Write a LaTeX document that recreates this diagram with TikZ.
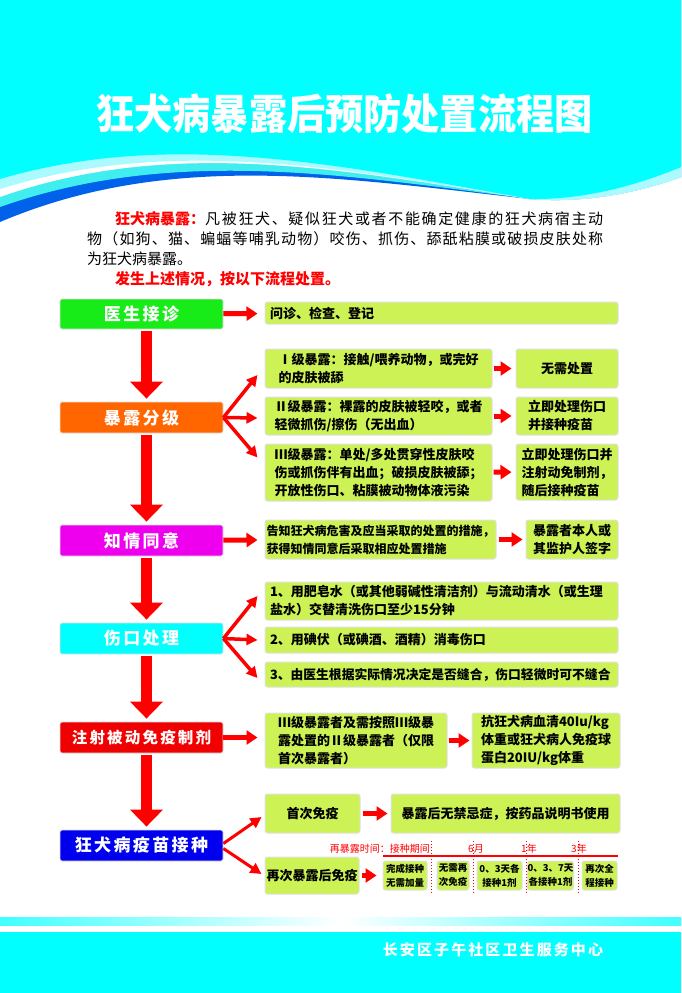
\documentclass[tikz,border=0pt]{standalone}
\usepackage{fontspec}
\usetikzlibrary{arrows.meta}
\newfontfamily\cjk{Noto Sans CJK SC}
\newfontfamily\cjkwide{Noto Sans CJK SC}[LetterSpace=14]
\ExplSyntaxOn
\NewDocumentCommand\spreadchars{m}{\tl_map_inline:nn{#1}{##1\hfil}}
\ExplSyntaxOff
\definecolor{topcyan}{RGB}{0,255,255}
\definecolor{wavelight}{RGB}{170,250,255}
\definecolor{wavemid}{RGB}{64,238,240}
\definecolor{waveblue}{RGB}{0,98,235}
\definecolor{boxlime}{RGB}{205,242,85}
\definecolor{boxgreen}{RGB}{24,236,24}
\definecolor{boxorange}{RGB}{255,102,0}
\definecolor{boxmagenta}{RGB}{238,0,238}
\definecolor{boxred}{RGB}{240,0,0}
\definecolor{boxblue}{RGB}{0,0,238}
\definecolor{arrowred}{RGB}{255,0,0}

\begin{document}
\begin{tikzpicture}[x=1pt, y=-1pt, font=\cjk,
    lbox/.style={rectangle, rounded corners=2pt, draw=black!12, line width=0.8pt,
      minimum width=163pt, minimum height=31pt, inner sep=0pt, text=white,
      font=\cjkwide\bfseries\fontsize{17}{17}\selectfont},
    gbox/.style={rectangle, rounded corners=2.5pt, fill=boxlime, draw=black!12, line width=1pt,
      align=left, inner sep=0pt, font=\cjk\bfseries\fontsize{13}{18}\selectfont},
    wide/.style={gbox, minimum width=353pt, text width=343pt},
    tbox/.style={gbox, align=center, minimum height=29pt,
      font=\cjk\bfseries\fontsize{9.5}{14}\selectfont},
    intro/.style={anchor=base west, inner sep=0pt, font=\cjk\fontsize{15}{15}\selectfont},
    down/.style={draw=arrowred, line width=11pt, -{Triangle[length=17pt,width=32pt]},
      shorten <=2pt, shorten >=3pt},
    harr/.style={draw=arrowred, line width=5pt, -{Triangle[length=11pt,width=14pt]}},
    fan/.style={draw=arrowred, line width=3.5pt, -{Triangle[length=11pt,width=11pt]}},
    tl/.style={text=arrowred, inner sep=0pt, font=\cjk\fontsize{10}{10}\selectfont},
    tick/.style={arrowred, line width=1pt, dotted}]

  \useasboundingbox (0,0) rectangle (681,993);
  \fill[white] (0,0) rectangle (681,993);

  % fondo de arriba con las ondas
  \fill[waveblue] (0,0) -- (0,222) .. controls (170,150) and (340,178) .. (530,199)
    .. controls (590,204) and (645,190) .. (681,177) -- (681,0) -- cycle;
  \fill[wavemid] (0,0) -- (0,207) .. controls (170,147) and (340,174) .. (530,199)
    .. controls (590,204) and (645,190) .. (681,177) -- (681,0) -- cycle;
  \fill[white] (0,0) -- (0,197) .. controls (170,137) and (340,169) .. (530,199)
    .. controls (590,204) and (645,190) .. (681,177) -- (681,0) -- cycle;
  \fill[wavelight] (0,0) -- (0,189) .. controls (170,136) and (340,168) .. (530,199)
    .. controls (590,204) and (645,190) .. (681,177) -- (681,0) -- cycle;
  \fill[topcyan] (0,0) -- (0,179) .. controls (170,129) and (340,165) .. (530,199)
    .. controls (590,200) and (645,182) .. (681,167) -- (681,0) -- cycle;

  \node[text=white, font=\cjk\bfseries\fontsize{41.5}{42}\selectfont] (title) at (344.5,114)
    {\scalebox{0.92}[1]{狂犬病暴露后预防处置流程图}};

  % texto de arriba, linea por linea
  \node[intro] (line1) at (115,224)
    {\hbox to 488pt{{\color{arrowred}\bfseries 狂犬病暴露：}\spreadchars{凡被狂犬、疑似狂犬或者不能确定健康的狂犬病宿主动}\unskip}};
  \node[intro] (line2) at (87,244)
    {\hbox to 516pt{\spreadchars{物（如狗、猫、蝙蝠等哺乳动物）咬伤、抓伤、舔舐粘膜或破损皮肤处称}\unskip}};
  \node[intro] (line3) at (87,264) {为狂犬病暴露。};
  \node[intro, text=arrowred, font=\cjk\bfseries\fontsize{15}{15}\selectfont] (hint) at (115,284)
    {发生上述情况，按以下流程处置。};

  % columna izquierda
  \node[lbox, fill=boxgreen, minimum height=30pt] (doc) at (141.5,314) {医生接诊};
  \node[lbox, fill=boxorange] (grade) at (141.5,417.5) {暴露分级};
  \node[lbox, fill=boxmagenta] (consent) at (141.5,540.5) {知情同意};
  \node[lbox, fill=topcyan] (wound) at (141.5,638.5) {伤口处理};
  \node[lbox, fill=boxred, font=\cjkwide\bfseries\fontsize{15.5}{16}\selectfont] (serum) at (141.5,737.5) {注射被动免疫制剂};
  \node[lbox, fill=boxblue] (vacc) at (141.5,845.5) {狂犬病疫苗接种};

  % cajas de la derecha
  \node[wide, minimum height=22pt] (ask) at (441.5,313) {问诊、检查、登记};

  \node[gbox, minimum width=227pt, minimum height=39pt] (g1) at (378.5,368.5)
    {Ⅰ级暴露：接触/喂养动物，或完好\\的皮肤被舔};
  \node[gbox, minimum width=227pt, minimum height=38pt] (g2) at (378.5,416)
    {Ⅱ级暴露：裸露的皮肤被轻咬，或者\\轻微抓伤/擦伤（无出血）};
  \node[gbox, minimum width=227pt, minimum height=57pt] (g3) at (378.5,472.5)
    {Ⅲ级暴露：单处/多处贯穿性皮肤咬\\伤或抓伤伴有出血；破损皮肤被舔；\\开放性伤口、粘膜被动物体液污染};
  \node[gbox, minimum width=102pt, minimum height=39pt] (r1) at (567,368.5) {无需处置};
  \node[gbox, minimum width=102pt, minimum height=38pt] (r2) at (567,416) {立即处理伤口\\并接种疫苗};
  \node[gbox, minimum width=102pt, minimum height=56pt] (r3) at (567,472)
    {立即处理伤口并\\注射动免制剂，\\随后接种疫苗};

  \node[gbox, minimum width=231pt, minimum height=39pt, font=\cjk\bfseries\fontsize{12}{18}\selectfont] (inform) at (380.5,539.5)
    {告知狂犬病危害及应当采取的处置的措施，\\获得知情同意后采取相应处置措施};
  \node[gbox, minimum width=92pt, minimum height=39pt] (sign) at (572,539.5) {暴露者本人或\\其监护人签字};

  \node[wide, minimum height=38pt] (w1) at (441.5,601)
    {1、用肥皂水（或其他弱碱性清洁剂）与流动清水（或生理\\盐水）交替清洗伤口至少15分钟};
  \node[wide, minimum height=26pt] (w2) at (441.5,640) {2、用碘伏（或碘酒、酒精）消毒伤口};
  \node[wide, minimum height=25pt, font=\cjk\bfseries\fontsize{12.8}{18}\selectfont] (w3) at (441.5,674.5)
    {3、由医生根据实际情况决定是否缝合，伤口轻微时可不缝合};

  \node[gbox, minimum width=182pt, minimum height=55pt] (s1) at (356,740.5)
    {Ⅲ级暴露者及需按照Ⅲ级暴\\露处置的Ⅱ级暴露者（仅限\\首次暴露者）};
  \node[gbox, minimum width=148pt, minimum height=55pt] (s2) at (546,740.5)
    {抗狂犬病血清40Iu/kg\\体重或狂犬病人免疫球\\蛋白20IU/kg体重};

  \node[gbox, minimum width=95pt, minimum height=39pt] (v1) at (312.5,813.5) {首次免疫};
  \node[gbox, minimum width=229pt, minimum height=39pt] (v2) at (505.5,813.5) {暴露后无禁忌症，按药品说明书使用};
  \node[gbox, minimum width=94pt, minimum height=37pt] (v3) at (312,875.5) {再次暴露后免疫};

  % linea de tiempo
  \draw[arrowred, line width=2.5pt] (383,856) -- (618,856);
  \foreach \xx in {431,473,526,578}
    \draw[tick] (\xx,841) -- (\xx,893);
  \node[tl, anchor=base east] (when) at (430,852) {再暴露时间：接种期间};
  \node[tl] (m6) at (476,849) {6月};
  \node[tl] (y1) at (529,849) {1年};
  \node[tl] (y3) at (579,849) {3年};

  \node[tbox, minimum width=44pt] (t1) at (405,875.5) {完成接种\\无需加量};
  \node[tbox, minimum width=32pt] (t2) at (453,875.5) {无需再\\次免疫};
  \node[tbox, minimum width=45pt] (t3) at (499.5,875.5) {0、3天各\\接种1剂};
  \node[tbox, minimum width=45pt] (t4) at (550.5,875.5) {0、3、7天\\各接种1剂};
  \node[tbox, minimum width=35pt] (t5) at (599.5,875.5) {再次全\\程接种};

  % flechas grandes
  \path ([xshift=5pt]doc.south) edge[down] ([xshift=5pt]grade.north);
  \path ([xshift=5pt]grade.south) edge[down] ([xshift=5pt]consent.north);
  \path ([xshift=5pt]consent.south) edge[down] ([xshift=5pt]wound.north);
  \path ([xshift=5pt]wound.south) edge[down] ([xshift=5pt]serum.north);
  \path ([xshift=5pt]serum.south) edge[down] ([xshift=5pt]vacc.north);

  % flechas pequenas
  \path (doc) edge[harr, shorten >=7pt] (ask);
  \path (grade.east) edge[fan] ([xshift=-7pt, yshift=-6.5pt]g1.west);
  \path (grade.east) edge[fan] ([xshift=-7pt, yshift=-2pt]g2.west);
  \path (grade.east) edge[fan] ([xshift=-7pt, yshift=15pt]g3.west);
  \path (g1) edge[harr, shorten <=1pt, shorten >=4pt] (r1);
  \path (g2) edge[harr, shorten <=1pt, shorten >=4pt] (r2);
  \path (g3) edge[harr, shorten <=1pt, shorten >=4pt] (r3);
  \path (consent) edge[harr, shorten >=7pt] (inform);
  \path (inform) edge[harr, shorten <=2pt, shorten >=3pt] (sign);
  \path (wound.east) edge[fan] ([xshift=-7pt, yshift=5pt]w1.west);
  \path (wound.east) edge[fan] ([xshift=-7pt]w2.west);
  \path (wound.east) edge[fan] ([xshift=-7pt, yshift=-3.5pt]w3.west);
  \path (serum.east) edge[harr, shorten >=7pt] (s1.west |- serum.east);
  \path (s1) edge[harr, shorten <=1pt, shorten >=2pt] (s2);
  \path ([yshift=2pt]vacc.east) edge[fan, line width=3pt] ([xshift=-3pt, yshift=-3.5pt]v1.west);
  \path ([yshift=-3pt]vacc.east) edge[fan, line width=3pt] ([xshift=-3pt, yshift=1.5pt]v3.west);
  \path (v1) edge[harr, shorten <=2pt, shorten >=3pt] (v2);
  \path (v3) edge[harr, shorten <=2pt, shorten >=6pt] (t1);

  % pie
  \shade[left color=topcyan!75, right color=topcyan!75, middle color=white] (0,917) rectangle (681,925);
  \fill[topcyan] (0,932) rectangle (681,993);
  \node[text=white, font=\cjkwide\bfseries\fontsize{15}{15}\selectfont] (org) at (493,950) {长安区子午社区卫生服务中心};
\end{tikzpicture}
\end{document}
